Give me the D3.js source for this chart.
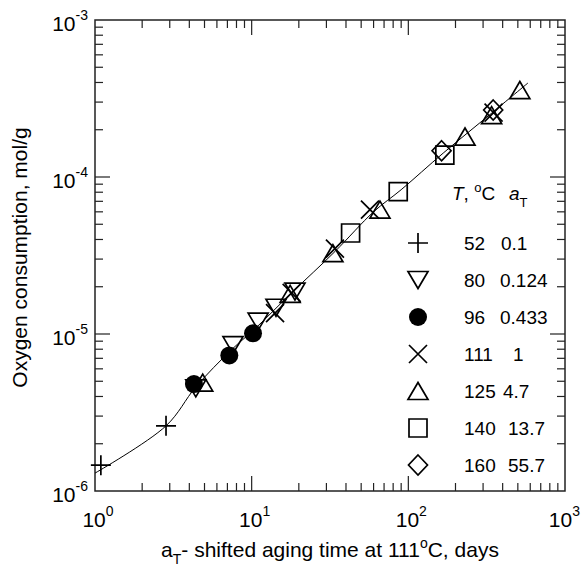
<!DOCTYPE html>
<html><head><meta charset="utf-8">
<script src="https://cdn.jsdelivr.net/npm/d3@7"></script>
<style>
body{margin:0;background:#fff}
text{font-family:"Liberation Sans",Arial,Helvetica,sans-serif;fill:#000}
</style>
</head><body>
<svg id="chart" width="581" height="568"></svg>
<script>
// ---------------- data ----------------
const legendTemps = ["52","80","96","111","125","140","160"];
const legendShift = ["0.1","0.124","0.433","1","4.7","13.7","55.7"];
const seriesSymbols = ["plus","triDown","circle","cross","triUp","square","diamond"];

const t52X = [1.09, 2.84];
const t52Y = [1.46e-6, 2.6e-6];
const t80X = [4.4, 7.6, 11.0, 14.3, 18.9];
const t80Y = [4.5e-6, 8.5e-6, 1.2e-5, 1.47e-5, 1.86e-5];
const t96X = [4.28, 7.2, 10.2];
const t96Y = [4.8e-6, 7.3e-6, 1.01e-5];
const t111X = [14.1, 18.0, 34.0, 56.9, 350];
const t111Y = [1.36e-5, 1.83e-5, 3.5e-5, 6.2e-5, 2.57e-4];
const t125X = [4.87, 17.6, 33.0, 65.9, 230, 340, 515];
const t125Y = [4.9e-6, 1.8e-5, 3.27e-5, 6.2e-5, 1.81e-4, 2.48e-4, 3.58e-4];
const t140X = [42.8, 86.2, 171];
const t140Y = [4.4e-5, 8.06e-5, 1.38e-4];
const t160X = [163, 348];
const t160Y = [1.47e-4, 2.67e-4];

const fitX = [1, 2.84, 4.4, 7.4, 10.5, 18, 34, 60, 90, 167, 340, 580];
const fitY = [1.30e-6, 2.6e-6, 4.6e-6, 7.9e-6, 1.08e-5, 1.83e-5, 3.35e-5, 6.0e-5, 8.3e-5, 1.42e-4, 2.55e-4, 3.97e-4];

const xMajor = [1, 10, 100, 1000];
const xExp = ["0", "1", "2", "3"];
const yMajor = [1e-6, 1e-5, 1e-4, 1e-3];
const yExp = ["-6", "-5", "-4", "-3"];

const series = [
  {x: t52X, y: t52Y}, {x: t80X, y: t80Y}, {x: t96X, y: t96Y}, {x: t111X, y: t111Y},
  {x: t125X, y: t125Y}, {x: t140X, y: t140Y}, {x: t160X, y: t160Y}
];

// ---------------- layout ----------------
const L = 95, R = 565, T = 20, B = 491;
const svg = d3.select("#chart");
const x = d3.scaleLog().domain([1, 1000]).range([L, R]);
const y = d3.scaleLog().domain([1e-6, 1e-3]).range([B, T]);

function symPath(name) {
  switch (name) {
    case "plus": return "M-10,0H10M0,-10V10";
    case "cross": return "M-9,-9L9,9M-9,9L9,-9";
    case "triDown": return "M-10,-8.5L10,-8.5L0,8.5Z";
    case "triUp": return "M-10,8.5L10,8.5L0,-8.5Z";
    case "square": return "M-9,-9H9V9H-9Z";
    case "diamond": return "M0,-10L9.5,0L0,10L-9.5,0Z";
    default: return null;
  }
}
function drawSymbol(g, name, cx, cy) {
  if (name === "circle") {
    g.append("circle").attr("cx", cx).attr("cy", cy).attr("r", 9).attr("fill", "#000");
  } else {
    g.append("path").attr("d", symPath(name))
      .attr("transform", `translate(${cx},${cy})`)
      .attr("fill", "none").attr("stroke", "#000").attr("stroke-width", 1.7)
      .attr("stroke-linejoin", "miter");
  }
}

// ticks (inward on all four sides)
const tickG = svg.append("g").attr("stroke", "#222").attr("stroke-width", 1.2);
for (let d = 0; d < 3; d++) {
  for (let m = 1; m <= 9; m++) {
    if (m === 1 && d === 0) continue;
    const px = x(m * Math.pow(10, d));
    const len = m === 1 ? 15 : 8;
    tickG.append("line").attr("x1", px).attr("x2", px).attr("y1", B).attr("y2", B - len);
    tickG.append("line").attr("x1", px).attr("x2", px).attr("y1", T).attr("y2", T + len);
  }
}
for (let d = -6; d < -3; d++) {
  for (let m = 1; m <= 9; m++) {
    if (m === 1 && d === -6) continue;
    const py = y(m * Math.pow(10, d));
    const len = m === 1 ? 15 : 8;
    tickG.append("line").attr("y1", py).attr("y2", py).attr("x1", L).attr("x2", L + len);
    tickG.append("line").attr("y1", py).attr("y2", py).attr("x1", R).attr("x2", R - len);
  }
}

// frame
svg.append("rect").attr("x", L).attr("y", T).attr("width", R - L).attr("height", B - T)
  .attr("fill", "none").attr("stroke", "#222").attr("stroke-width", 1.5);

// tick labels
xMajor.forEach((v, i) => {
  const last = i === xMajor.length - 1;
  const t = svg.append("text").attr("x", last ? 580 : x(v) + 3).attr("y", 527)
    .attr("text-anchor", last ? "end" : "middle").attr("font-size", 21);
  t.append("tspan").text("10");
  t.append("tspan").attr("dy", -11).attr("font-size", 14).text(xExp[i]);
});
yMajor.forEach((v, i) => {
  const t = svg.append("text").attr("x", 88).attr("y", y(v) + 11)
    .attr("text-anchor", "end").attr("font-size", 21);
  t.append("tspan").text("10");
  t.append("tspan").attr("dy", -11).attr("font-size", 14).text(yExp[i]);
});

// axis titles
const xt = svg.append("text").attr("x", 330).attr("y", 557).attr("text-anchor", "middle").attr("font-size", 21);
xt.append("tspan").text("a");
xt.append("tspan").attr("dy", 7).attr("font-size", 14).text("T");
xt.append("tspan").attr("dy", -7).text("- shifted aging time at 111");
xt.append("tspan").attr("dy", -9).attr("font-size", 14).text("o");
xt.append("tspan").attr("dy", 9).text("C, days");

svg.append("text").attr("transform", `translate(27,${(T + B) / 2 + 2}) rotate(-90)`)
  .attr("text-anchor", "middle").attr("font-size", 21).text("Oxygen consumption, mol/g");

// fit line
const line = d3.line().x((d, i) => x(fitX[i])).y((d, i) => y(fitY[i])).curve(d3.curveCatmullRom.alpha(0.5));
svg.append("path").attr("d", line(fitX)).attr("fill", "none").attr("stroke", "#000").attr("stroke-width", 1);

// points
const ptG = svg.append("g");
series.forEach((s, k) => {
  s.x.forEach((xv, i) => drawSymbol(ptG, seriesSymbols[k], x(xv), y(s.y[i])));
});

// legend
const legG = svg.append("g");
const h1 = legG.append("text").attr("x", 452).attr("y", 200).attr("font-size", 19);
h1.append("tspan").attr("font-style", "italic").text("T");
h1.append("tspan").text(", ");
h1.append("tspan").attr("dy", -8).attr("font-size", 13).text("o");
h1.append("tspan").attr("dy", 8).text("C");
const h2 = legG.append("text").attr("x", 509).attr("y", 200).attr("font-size", 19);
h2.append("tspan").attr("font-style", "italic").text("a");
h2.append("tspan").attr("dy", 7).attr("font-size", 13).text("T");

const shiftX = [501, 500, 500, 513, 503, 508, 508];
legendTemps.forEach((t, i) => {
  const by = 250 + i * 37;
  drawSymbol(legG, seriesSymbols[i], 418, by - 7);
  legG.append("text").attr("x", 464).attr("y", by).attr("font-size", 19).text(t);
  legG.append("text").attr("x", shiftX[i]).attr("y", by).attr("font-size", 19).text(legendShift[i]);
});
</script>
</body></html>
